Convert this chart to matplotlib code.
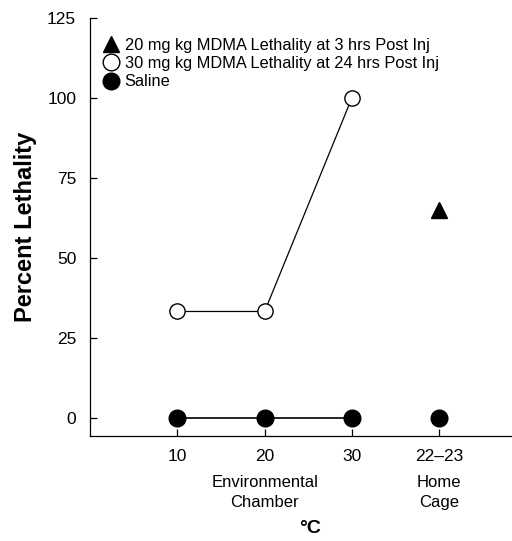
import numpy as np
import matplotlib.pyplot as plt

plt.rcParams['font.family'] = ['Liberation Sans', 'DejaVu Sans']

# x positions: 10, 20, 30 (chamber) and 22-23 (home cage)
tick_labels = ['10', '20', '30', '22\u201323']
chamber_x = [1, 2, 3]
home_x = [4]

mdma30_24h = [33.3, 33.3, 100]   # open circles, chamber
saline_chamber = [0, 0, 0]        # filled circles, chamber
saline_home = [0]                 # filled circle, home cage
mdma20_3h_home = [65]             # triangle, home cage

fig = plt.figure(figsize=(5.12, 5.41), dpi=100)
ax = fig.add_axes([0.176, 0.194, 0.83, 0.773])

ax.plot(chamber_x, mdma30_24h, '-o', color='black', mfc='white', mec='black',
        ms=11, lw=0.9, mew=1.0, zorder=3)
ax.plot(chamber_x, saline_chamber, '-o', color='black', ms=12, lw=1.2, zorder=3)
ax.plot(home_x, saline_home, 'o', color='black', ms=12, zorder=3)
ax.plot(home_x, mdma20_3h_home, '^', color='black', ms=11, zorder=3)

ax.set_xlim(0, 4.87)
ax.set_ylim(-5.6, 125)
ax.set_yticks([0, 25, 50, 75, 100, 125])
ax.set_xticks([1, 2, 3, 4])
ax.set_xticklabels(tick_labels)
ax.tick_params(direction='in', length=5, width=0.9, labelsize=12.5, pad=9)
ax.tick_params(axis='y', pad=10)
for s in ['top', 'right']:
    ax.spines[s].set_visible(False)
ax.spines['left'].set_linewidth(0.9)
ax.spines['bottom'].set_linewidth(0.9)

ax.set_ylabel('Percent Lethality', fontsize=17, fontweight='bold', labelpad=7)

ax.text(2, -0.092, 'Environmental\nChamber', transform=ax.get_xaxis_transform(),
        ha='center', va='top', fontsize=12, linespacing=1.45)
ax.text(4, -0.092, 'Home\nCage', transform=ax.get_xaxis_transform(),
        ha='center', va='top', fontsize=12, linespacing=1.45)
fig.text(0.605, 0.008, '\u00b0C', ha='center', va='bottom', fontsize=14, fontweight='bold')

# legend handles
h1, = ax.plot([], [], '^', color='black', ms=12)
h2, = ax.plot([], [], 'o', color='black', mfc='white', ms=12)
h3, = ax.plot([], [], 'o', color='black', ms=12)
ax.legend([h1, h2, h3],
          ['20 mg kg MDMA Lethality at 3 hrs Post Inj',
           '30 mg kg MDMA Lethality at 24 hrs Post Inj',
           'Saline'],
          loc='upper left', bbox_to_anchor=(0.0, 0.98), frameon=False,
          fontsize=11.8, handletextpad=0.2, borderaxespad=0.3,
          labelspacing=0.2, handlelength=1.2)

fig.savefig('out.png', dpi=100)
